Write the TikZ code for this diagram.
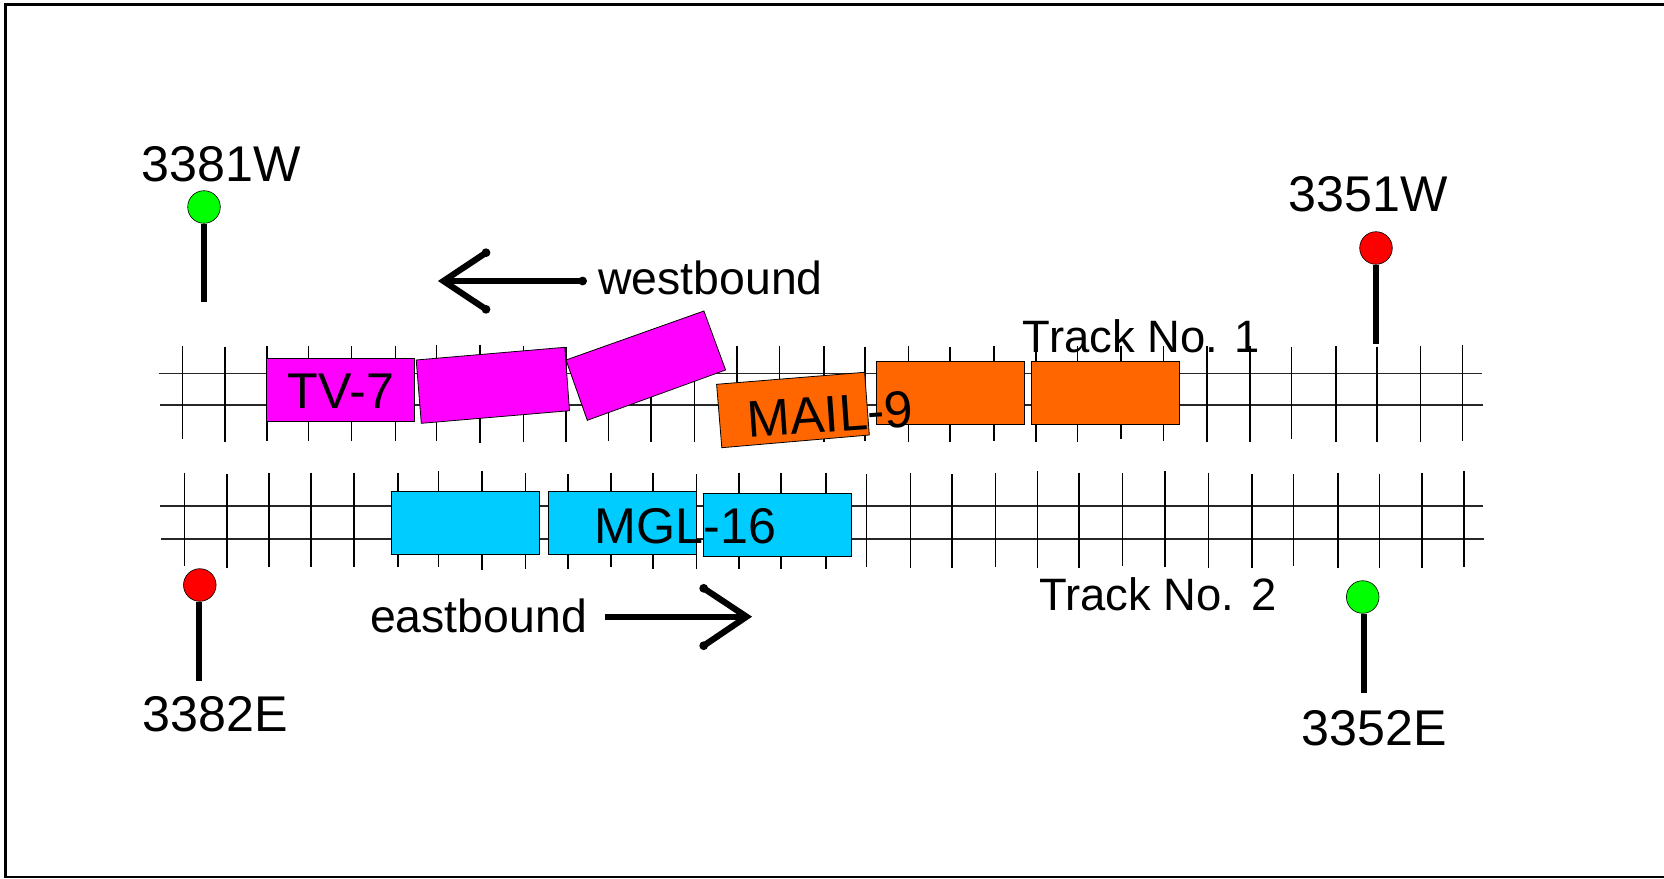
\documentclass[tikz,border=0pt]{standalone}
\usepackage{fontspec}
\setmainfont{Liberation Sans}
\usetikzlibrary{calc}
\definecolor{carmag}{RGB}{255,0,255}
\definecolor{carora}{RGB}{255,102,0}
\definecolor{carblu}{RGB}{0,204,255}
\definecolor{siggrn}{RGB}{0,255,0}
\definecolor{sigred}{RGB}{255,0,0}
\tikzset{
  rail/.style={line width=0.95pt,draw=black!85},
  tie/.style={line width=0.75pt,draw=black},
  car/.style={draw=black,line width=0.4pt},
  lamp/.style={circle,draw=black,line width=0.3pt,minimum size=16.3pt,inner sep=0pt},
  pole/.style={line width=3pt,draw=black},
  big/.style={inner sep=0pt,anchor=base,font=\fontsize{25.1}{25.1}\selectfont},
  small/.style={inner sep=0pt,anchor=base,font=\fontsize{22.7}{22.7}\selectfont},
  dirtext/.style={inner sep=0pt,anchor=base,font=\fontsize{23.2}{23.2}\selectfont},
  dirline/.style={line width=3.1pt,draw=black,miter limit=10},
  dot/.style={circle,fill=black,inner sep=0pt,minimum size=4.4pt},
}
\begin{document}
\begin{tikzpicture}[x=0.5pt,y=-0.5pt]
\useasboundingbox (0,0) rectangle (1664,878);
% frame
\draw[line width=1.45pt] (5.3,877) -- (5.3,4.7) -- (1670,4.7);
\draw[line width=1pt] (4,877) -- (1670,877);
% rails
\draw[rail] (158.5,373.5) -- (1482,373.5);
\draw[rail] (160,404.7) -- (1483,404.7);
\draw[rail] (160,505.8) -- (1483,505.8);
\draw[rail] (161,539.3) -- (1484,539.3);
% ties track 1
\foreach \x/\t/\b in {182.6/346/439.3,224.9/347.3/441.7,267.2/346/440.7,308.7/346/440.7,351.7/346/440.7,395.6/346/440.7,436.7/344.7/440.7,480.2/344.7/443.3,523.7/346/441.7,566/347.3/441.7,608.6/346/440.7,651/346/441.7,694.5/346/441.7,737/346/441.7,779.4/346/441.7,823.8/346/441.7,865.1/347.3/440.7,908.6/346/441.7,949.9/347.3/441.7,993.8/346/440.7,1036.2/346/441.7,1077.5/346/441.7,1120.9/346/439.3,1163.3/346/440.7,1207.2/346/441.7,1250/346/441.7,1291.4/347.3/439.3,1335.9/346/441.7,1377.2/347.3/441.7,1420.6/346/441.7,1462.4/344.7/440.7}
  {\draw[tie] (\x,\t) -- (\x,\b);}
% ties track 2
\foreach \x/\t/\b in {184.5/472.7/566,226.9/474/568.3,268.8/472.7/567.3,310.8/472.7/567.3,354.1/472.7/567.3,397.9/472.7/567.3,438.5/471.3/567.3,481.8/471.3/570,525.5/472.7/568.7,567.9/474/568.7,610.8/472.7/567.3,652.8/472.7/568.7,696.4/474/568.7,738.8/472.7/568.7,780.9/472.7/568.7,825.9/472.7/568.7,866.7/474/567.3,910.6/472.7/568.3,952/474/568.3,995.4/472.7/566.7,1037.5/471.3/568.3,1079/472.7/568.3,1122.5/472.7/566,1165/471.3/567.3,1208.6/472.7/568.3,1252/474/568.3,1293.3/474/566,1337.8/472.7/568.3,1379.3/474/568.3,1422/472.7/568.3,1464/471.3/567.3}
  {\draw[tie] (\x,\t) -- (\x,\b);}
% cars
\draw[car,fill=carmag] (266.4,358.3) rectangle (414.6,421.3);
\draw[car,fill=carmag] (416.2,360) -- (564.8,347.3) -- (569.5,410.7) -- (421.3,423.3) -- cycle;
\draw[car,fill=carmag] (566,360) -- (703.9,311) -- (725.6,370) -- (587.3,420.3) -- cycle;
\draw[car,fill=carora] (876.7,361.3) rectangle (1024.7,424.7);
\draw[car,fill=carora] (1031.5,361.3) rectangle (1179.5,424.7);
\draw[car,fill=carora] (716.6,384.3) -- (864.6,372.3) -- (869.3,435) -- (721.8,447.7) -- cycle;
\draw[car,fill=carblu] (391.6,491.3) rectangle (539.4,554.3);
\draw[car,fill=carblu] (548.3,491.3) rectangle (696.5,554.3);
\draw[car,fill=carblu] (703.2,493.3) rectangle (851.5,556.3);
% car labels
\node[big] (tv) at (341,408) {TV-7};
\node[big,rotate=4,font=\fontsize{25.8}{25.8}\selectfont] (mail) at (831.5,432) {MAIL-9};
\node[big] (mgl) at (685.5,543.3) {MGL-16};
% signals
\node[lamp,fill=siggrn] (s1) at (204,207) {};
\coordinate (s1b) at (204,301.7);
\draw[pole] (s1.south) -- (s1b);
\node[big] (l1) at (221,181.7) {3381W};
\node[lamp,fill=sigred] (s2) at (1376,248) {};
\coordinate (s2b) at (1376,343.7);
\draw[pole] (s2.south) -- (s2b);
\node[big] (l2) at (1368,211.5) {3351W};
\node[lamp,fill=sigred] (s3) at (199.8,585) {};
\coordinate (s3b) at (199,680.7);
\draw[pole] (s3.south -| s3b) -- (s3b);
\node[big] (l3) at (215,731.7) {3382E};
\node[lamp,fill=siggrn] (s4) at (1362.7,597) {};
\coordinate (s4b) at (1363.6,692.7);
\draw[pole] (s4.south -| s4b) -- (s4b);
\node[big] (l4) at (1374,745.7) {3352E};
% track labels
\node[small] (t1) at (1141.5,352.7) {Track No. 1};
\node[small] (t2) at (1158,610.7) {Track No. 2};
\node[dirtext] (wb) at (710.5,294.5) {westbound};
\node[dirtext] (eb) at (478.5,632.3) {eastbound};
% west arrow
\node[dot] (wtail) at (582.6,281) {};
\node[dot] (wa) at (486,252.7) {};
\node[dot] (wb2) at (486,309.3) {};
\coordinate (wtip) at (443.5,281);
\draw[dirline] (wa.center) -- (wtip) -- (wb2.center);
\draw[dirline] (wtip) -- (wtail.center);
% east arrow
\coordinate (etail) at (605.4,616.7);
\coordinate (etip) at (746.5,616.7);
\node[dot] (ea) at (703.7,588.3) {};
\node[dot] (eb2) at (703.7,645.7) {};
\draw[dirline] (ea.center) -- (etip) -- (eb2.center);
\draw[dirline] (etail) -- (etip);
\end{tikzpicture}
\end{document}
